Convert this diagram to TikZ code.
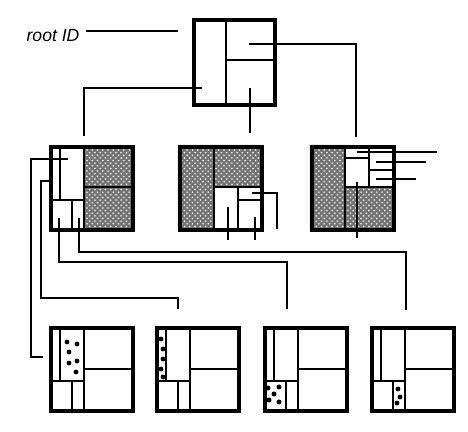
\documentclass[tikz,border=0pt]{standalone}
\usepackage{fontspec}
\setsansfont{Liberation Sans}
\usetikzlibrary{patterns}

\begin{document}
\begin{tikzpicture}[x=0.02cm, y=-0.02cm,
      blk/.style={draw, line width=2.3pt, anchor=north west, inner sep=0pt,
                  minimum width=1.64cm, minimum height=1.66cm},
      sub/.style={line width=1.1pt},
      stip/.style={preaction={fill=black!55}, pattern=crosshatch dots,
                   pattern color=white},
      ptr/.style={line width=0.9pt},
      dot/.style={fill=black}
  ]
    \useasboundingbox (0,0) rectangle (468,432);

    % root page
    \node[font=\sffamily\itshape] (lbl) at (53,36) {root ID};
    \coordinate (rid) at (178,31);
    \draw[ptr] (lbl.east |- rid) -- (rid);
    \begin{scope}[shift={(192,18)}]
      \draw[sub] (34,0) -- (34,85) (34,42) -- (81,42);
      \coordinate (r1) at (57,26);
      \coordinate (r2) at (10,70);
      \coordinate (r3) at (58,70);
      \node[blk, minimum width=1.62cm, minimum height=1.70cm] (root) at (0,0) {};
    \end{scope}

    % middle pages
    \begin{scope}[shift={(49,145)}]
      \path[stip] (35,0) rectangle (82,83);
      \draw[sub] (35,0) -- (35,83) (35,42) -- (82,42) (11,0) -- (11,55)
                 (0,55) -- (35,55) (23,55) -- (23,83);
      \coordinate (ma-a) at (19,14);
      \coordinate (ma-b) at (4,36);
      \coordinate (ma-c) at (10,73);
      \coordinate (ma-d) at (30,73);
      \node[blk] (ma) at (0,0) {};
    \end{scope}
    \begin{scope}[shift={(178,145)}]
      \path[stip] (0,0) -- (82,0) -- (82,42) -- (36,42) -- (36,83) -- (0,83) -- cycle;
      \draw[sub] (36,0) -- (36,83) (36,42) -- (82,42) (60,42) -- (60,83)
                 (60,55) -- (82,55);
      \coordinate (mb-e) at (74,48);
      \coordinate (mb-f) at (50,62);
      \coordinate (mb-g) at (77,72);
      \node[blk] (mb) at (0,0) {};
    \end{scope}
    \begin{scope}[shift={(310,145)}]
      \path[stip] (0,0) -- (35,0) -- (35,42) -- (82,42) -- (82,83) -- (0,83) -- cycle;
      \draw[sub] (35,0) -- (35,83) (35,42) -- (82,42) (59,0) -- (59,42)
                 (35,13) -- (59,13) (59,25) -- (82,25);
      \coordinate (mc-h) at (47,7);
      \coordinate (mc-i) at (66,17);
      \coordinate (mc-j) at (66,34);
      \coordinate (mc-k) at (47,37);
      \node[blk] (mc) at (0,0) {};
    \end{scope}

    % bottom pages
    \begin{scope}[shift={(49,326)}]
      \draw[sub] (35,0) -- (35,83) (35,43) -- (82,43) (11,0) -- (11,55)
                 (0,55) -- (35,55) (23,55) -- (23,83);
      \fill[dot] (18,16) circle (2.4) (28,18) circle (2.4) (20,26) circle (2.4)
                 (28,35) circle (2.4) (20,37) circle (2.4) (27,46) circle (2.4);
      \node[blk] (ba) at (0,0) {};
    \end{scope}
    \begin{scope}[shift={(155,326)}]
      \draw[sub] (35,0) -- (35,83) (35,43) -- (82,43) (11,0) -- (11,55)
                 (0,55) -- (35,55) (23,55) -- (23,83);
      \fill[dot] (6,13) circle (2.4) (8,23) circle (2.4) (8,33) circle (2.4)
                 (6,43) circle (2.4) (8,51) circle (2.4);
      \node[blk] (bb) at (0,0) {};
    \end{scope}
    \begin{scope}[shift={(263,326)}]
      \draw[sub] (35,0) -- (35,83) (35,43) -- (82,43) (11,0) -- (11,55)
                 (0,55) -- (35,55) (23,55) -- (23,83);
      \fill[dot] (5,62) circle (2.5) (16,61) circle (2.5) (11,68) circle (2.5)
                 (6,74) circle (2.5) (16,76) circle (2.5);
      \node[blk] (bc) at (0,0) {};
    \end{scope}
    \begin{scope}[shift={(370,326)}]
      \draw[sub] (35,0) -- (35,83) (35,43) -- (82,43) (11,0) -- (11,55)
                 (0,55) -- (35,55) (23,55) -- (23,83);
      \fill[dot] (28,63) circle (2.4) (30,71) circle (2.4) (27,77) circle (2.4);
      \node[blk] (bd) at (0,0) {};
    \end{scope}

    % free ends of the pointers
    \coordinate (to-ma) at (84,136);
    \coordinate (to-mb) at (250,133);
    \coordinate (to-mc) at (356,137);
    \coordinate (to-ba) at (43,357);
    \coordinate (to-bb) at (178,309);
    \coordinate (to-bc) at (287,309);
    \coordinate (to-bd) at (406,310);

    \draw[ptr] (r1) -| (to-mc);
    \draw[ptr] (r2) -| (to-ma);
    \draw[ptr] (r3) -- (to-mb);

    \draw[ptr] (ma-a) -| ++(-37,198) -- (to-ba);
    \draw[ptr] (ma-b) -| ++(-12,117) -| (to-bb);
    \draw[ptr] (ma-c) -- ++(0,44) -| (to-bc);
    \draw[ptr] (ma-d) -- ++(0,34) -| (to-bd);

    \draw[ptr] (mb-e) -| ++(25,36);
    \draw[ptr] (mb-f) -- ++(0,33);
    \draw[ptr] (mb-g) -- ++(0,23);

    \draw[ptr] (mc-h) -- ++(80,0);
    \draw[ptr] (mc-i) -- ++(50,0);
    \draw[ptr] (mc-j) -- ++(40,0);
    \draw[ptr] (mc-k) -- ++(0,56);
  \end{tikzpicture}
\end{document}
